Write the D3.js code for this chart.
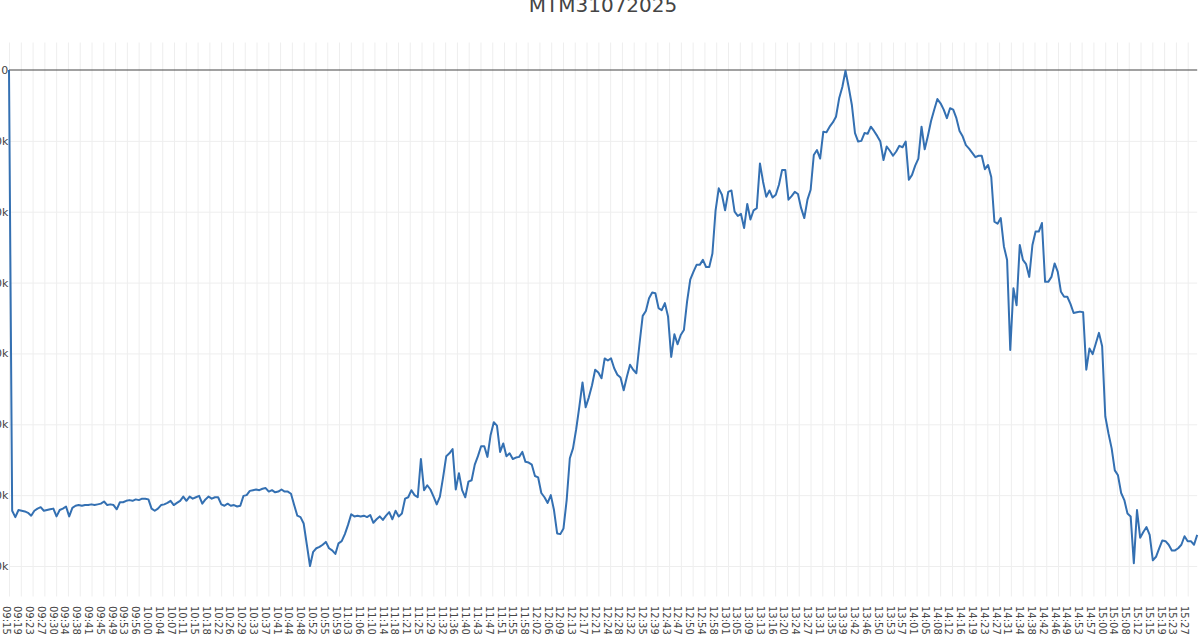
<!DOCTYPE html>
<html>
<head>
<meta charset="utf-8">
<script src="https://cdn.jsdelivr.net/npm/d3@7"></script>
<style>
  html, body { margin: 0; padding: 0; background: #fff; }
  svg { display: block; }
</style>
</head>
<body>
<svg id="chart" width="1200" height="634"></svg>
<script>
// ---------------- DATA ----------------
const chartTitle = "MTM31072025";
const sessionStart = "09:15";          // first category, one value per minute
const mtm = [
  0, -62200, -63100, -62100, -62200, -62300, -62500, -62900, -62200, -61900,
  -61700, -62200, -62100, -62000, -61900, -63000, -62100, -61900, -61600, -63000,
  -61800, -61500, -61400, -61500, -61400, -61400, -61300, -61400, -61300, -61200,
  -60900, -61400, -61300, -61400, -62000, -61000, -61000, -60800, -60700, -60800,
  -60600, -60700, -60500, -60500, -60600, -61900, -62200, -61900, -61400, -61300,
  -61100, -60800, -61400, -61100, -60800, -60200, -60800, -60200, -60500, -60300,
  -60100, -61200, -60600, -60200, -60500, -60300, -60300, -61300, -61500, -61200,
  -61500, -61400, -61600, -61500, -60100, -60000, -59400, -59300, -59200, -59300,
  -59100, -59000, -59500, -59300, -59600, -59500, -59200, -59500, -59500, -59800,
  -61400, -62900, -63100, -64000, -67000, -70000, -68000, -67500, -67300, -67000,
  -66600, -67500, -67800, -68300, -66800, -66500, -65500, -64200, -62700, -63000,
  -62900, -63000, -62900, -63100, -62800, -63900, -63400, -63000, -63500, -62900,
  -62400, -63400, -62200, -63000, -62600, -60500, -60300, -59300, -60000, -60300,
  -54900, -59300, -58600, -59200, -60200, -61300, -60200, -57500, -54500, -54100,
  -53500, -59200, -56900, -59300, -60300, -58100, -57900, -55700, -54500, -53100,
  -53100, -54600, -51500, -49700, -50200, -53900, -52700, -54500, -54100, -54900,
  -54700, -54600, -53900, -55300, -55400, -55700, -57300, -57500, -59700, -60300,
  -61100, -60000, -62100, -65400, -65500, -64700, -60700, -54800, -53400, -50700,
  -47500, -44100, -47600, -46200, -44500, -42300, -42700, -43500, -40700, -41000,
  -40700, -42100, -43000, -43400, -45200, -43300, -41600, -42300, -42800, -38600,
  -34700, -34000, -32200, -31400, -31500, -33600, -33900, -32900, -34800, -40500,
  -37300, -38700, -37400, -36700, -32700, -29600, -28500, -27500, -27500, -26800,
  -27800, -27800, -25900, -19800, -16700, -17600, -19800, -17200, -17000, -20000,
  -20600, -20300, -22300, -18900, -21100, -19800, -19500, -13200, -15800, -17900,
  -17000, -18000, -17600, -16200, -14100, -14100, -18300, -17800, -17200, -17500,
  -19500, -20900, -18300, -16900, -12000, -11300, -12500, -8700, -8800, -8000,
  -7400, -6600, -4000, -2400, -100, -2400, -4900, -8900, -10100, -10000,
  -8900, -9000, -8000, -8600, -9300, -10100, -12700, -10800, -11400, -12100,
  -11500, -10700, -10900, -10100, -15500, -14800, -13500, -12500, -8000, -11200,
  -9300, -7200, -5600, -4100, -4700, -5600, -6800, -5400, -5600, -6800,
  -8600, -9400, -10600, -11100, -11700, -12300, -12100, -12100, -14000, -13400,
  -15100, -21400, -21700, -20900, -24900, -26800, -39500, -30800, -33200, -24700,
  -26800, -27400, -29200, -24700, -22800, -22800, -21600, -29900, -29900, -29200,
  -27300, -28500, -31300, -32000, -32000, -33000, -34300, -34200, -34100, -34200,
  -42300, -39300, -40100, -38600, -37100, -39000, -48900, -51300, -53400, -56500,
  -57200, -59700, -60700, -62600, -63000, -69600, -62100, -66000, -65200, -64500,
  -65600, -69200, -68700, -67500, -66400, -66500, -67000, -67800, -67800, -67500,
  -67000, -65800, -66500, -66500, -67000, -65600
];
const xTickLabels = [
  "09:15","09:19","09:23","09:27","09:30","09:34","09:38","09:41","09:45","09:49","09:53","09:56",
  "10:00","10:04","10:07","10:11","10:15","10:18","10:22","10:26","10:29","10:33","10:37","10:41","10:44","10:48","10:52","10:55","10:59",
  "11:03","11:06","11:10","11:14","11:18","11:21","11:25","11:29","11:32","11:36","11:40","11:43","11:47","11:51","11:55","11:58",
  "12:02","12:06","12:09","12:13","12:17","12:21","12:24","12:28","12:32","12:35","12:39","12:43","12:47","12:50","12:54","12:58",
  "13:01","13:05","13:09","13:13","13:16","13:20","13:24","13:27","13:31","13:35","13:39","13:42","13:46","13:50","13:53","13:57",
  "14:01","14:05","14:08","14:12","14:16","14:19","14:23","14:27","14:31","14:34","14:38","14:42","14:46","14:49","14:53","14:57",
  "15:00","15:04","15:08","15:12","15:15","15:19","15:23","15:27"
];
const yTickValues = [0, -10000, -20000, -30000, -40000, -50000, -60000, -70000];
const yTickLabels = ["0", "\u221210k", "\u221220k", "\u221230k", "\u221240k", "\u221250k", "\u221260k", "\u221270k"];

// ---------------- LAYOUT ----------------
const W = 1200, H = 634;
const plot = { left: 9, right: 1197.2, top: 42.5, bottom: 596.5 };
const fontFamily = "'DejaVu Sans', Verdana, sans-serif";
const textColor = "#444";

const toMin = s => { const [h, m] = s.split(":").map(Number); return h * 60 + m; };
const t0 = toMin(sessionStart);
const categories = mtm.map((_, i) => {
  const t = t0 + i;
  return String(Math.floor(t / 60)).padStart(2, "0") + ":" + String(t % 60).padStart(2, "0");
});

const x = d3.scaleLinear()
  .domain([0, categories.length - 1])
  .range([plot.left, plot.right]);

const y = d3.scaleLinear()
  .domain([-70000, 0])
  .range([566, 70]);

// tick positions: labels are evenly spaced across the category axis
const labelSpan = toMin(xTickLabels[xTickLabels.length - 1]) - toMin(xTickLabels[0]);
const tickPos = xTickLabels.map((_, i) => (toMin(xTickLabels[0]) - t0) + i * labelSpan / (xTickLabels.length - 1));

const svg = d3.select("#chart");
svg.append("rect").attr("width", W).attr("height", H).attr("fill", "#fff");

// vertical grid
const xGrid = d3.axisBottom(x).tickValues(tickPos).tickSize(-(plot.bottom - plot.top)).tickFormat("");
svg.append("g")
  .attr("transform", `translate(0,${plot.bottom})`)
  .call(xGrid)
  .call(g => g.select(".domain").remove())
  .call(g => g.selectAll(".tick line").attr("stroke", "#eeeeee").attr("stroke-width", 1));

// horizontal grid
const yGrid = d3.axisLeft(y).tickValues(yTickValues.filter(v => v !== 0)).tickSize(-(plot.right - plot.left)).tickFormat("");
svg.append("g")
  .attr("transform", `translate(${plot.left},0)`)
  .call(yGrid)
  .call(g => g.select(".domain").remove())
  .call(g => g.selectAll(".tick line").attr("stroke", "#eeeeee").attr("stroke-width", 1));

// zero line
svg.append("line")
  .attr("x1", plot.left).attr("x2", plot.right)
  .attr("y1", y(0)).attr("y2", y(0))
  .attr("stroke", "#444").attr("stroke-width", 1.2);

// y tick labels
const yAxis = d3.axisLeft(y).tickValues(yTickValues).tickSize(0).tickPadding(0)
  .tickFormat((d, i) => yTickLabels[i]);
svg.append("g")
  .attr("transform", `translate(8.3,0)`)
  .call(yAxis)
  .call(g => g.select(".domain").remove())
  .call(g => g.selectAll("text")
    .attr("font-family", fontFamily).attr("font-size", 11).attr("fill", textColor));

// x tick labels (rotated 90°)
const xAxis = d3.axisBottom(x).tickValues(tickPos).tickSize(0)
  .tickFormat((d, i) => xTickLabels[i]);
svg.append("g")
  .attr("transform", `translate(0,${plot.bottom})`)
  .call(xAxis)
  .call(g => g.select(".domain").remove())
  .call(g => g.selectAll(".tick text")
    .attr("font-family", fontFamily).attr("font-size", 10).attr("fill", textColor)
    .attr("text-anchor", "start")
    .attr("dy", null)
    .attr("y", 0)
    .attr("transform", "translate(-3.5,9.5) rotate(90)")
    .attr("dominant-baseline", "central"));

// the MTM line
const line = d3.line()
  .x((d, i) => x(i))
  .y(d => y(d));
svg.append("path")
  .datum(mtm)
  .attr("fill", "none")
  .attr("stroke", "#3470b2")
  .attr("stroke-width", 2)
  .attr("stroke-linejoin", "round")
  .attr("d", line);

// title (partially above the visible frame, as in the reference)
svg.append("text")
  .attr("x", 603).attr("y", 12)
  .attr("text-anchor", "middle")
  .attr("font-family", fontFamily).attr("font-size", 20)
  .attr("fill", textColor)
  .text(chartTitle);
</script>
</body>
</html>
